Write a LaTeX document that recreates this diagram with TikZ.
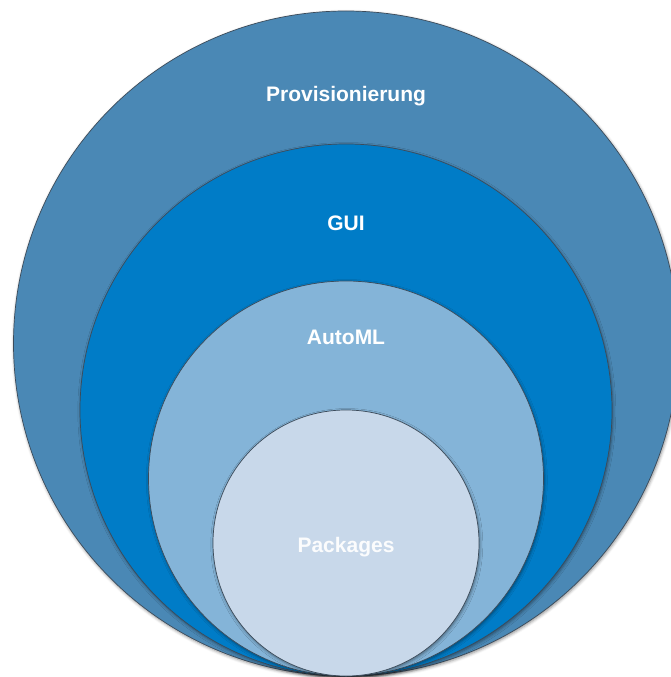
\documentclass[tikz,border=0pt]{standalone}
\usepackage{fontspec}
\setmainfont{Liberation Sans}
\usetikzlibrary{shadows.blur}
\definecolor{cProv}{RGB}{74,136,181}
\definecolor{cGui}{RGB}{0,124,199}
\definecolor{cAuto}{RGB}{132,180,216}
\definecolor{cPack}{RGB}{200,216,234}
\definecolor{cEdge}{RGB}{60,75,90}
\begin{document}
\begin{tikzpicture}[x=1pt,y=-1pt,
  ring/.style={draw=cEdge, line width=0.7pt,
    blur shadow={shadow xshift=0.8pt, shadow yshift=-1.5pt, shadow blur radius=3pt, shadow opacity=45}},
  lbl/.style={text=white, font=\fontsize{21}{25}\selectfont\bfseries, anchor=base, inner sep=0pt}]
\useasboundingbox (0,0) rectangle (670,677);
\path[ring, fill=cProv] (346,343.5) circle[radius=332.5pt];
\path[ring, fill=cGui]  (346,410)   circle[radius=266pt];
\path[ring, fill=cAuto] (346,478.5) circle[radius=197.5pt];
\path[ring, fill=cPack] (346,543)   circle[radius=133pt];
\node[lbl] (prov) at (346,101.5) {Provisionierung};
\node[lbl] (gui)  at (346,230.5) {GUI};
\node[lbl] (auto) at (346,344)   {AutoML};
\node[lbl, text=white!92!cPack] (pack) at (346,552) {Packages};
\end{tikzpicture}
\end{document}
